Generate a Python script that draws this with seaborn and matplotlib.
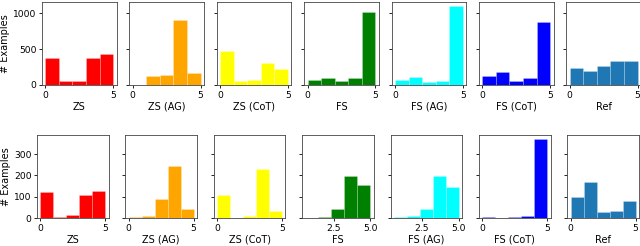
import matplotlib
matplotlib.use("Agg")
import matplotlib.pyplot as plt
import seaborn as sns
import numpy as np
import pandas as pd

methods = ["ZS", "ZS (AG)", "ZS (CoT)", "FS", "FS (AG)", "FS (CoT)", "Ref"]
colors = ["red", "orange", "yellow", "green", "cyan", "blue", "#1f77b4"]

# Bin edges
edges_full = [0, 1, 2, 3, 4, 5]
edges_bottom_fs = [0.6, 1.48, 2.36, 3.24, 4.12, 5.0]

# Top row counts (per bin)
top_zs = [380, 56, 56, 380, 435]
top_zs_ag = [0, 130, 139, 903, 167]
top_zs_cot = [472, 56, 69, 306, 227]
top_fs = [65, 95, 52, 100, 1022]
top_fs_ag = [69, 106, 42, 56, 1102]
top_fs_cot = [130, 176, 56, 102, 884]
top_ref = [241, 194, 259, 329, 338]

# Bottom row counts (per bin)
bot_zs = [120, 6, 13, 108, 125]
bot_zs_ag = [6, 9, 89, 244, 44]
bot_zs_cot = [108, 2, 8, 228, 33]
bot_fs = [0, 6, 42, 196, 156]
bot_fs_ag = [3, 8, 42, 199, 146]
bot_fs_cot = [4, 1, 6, 8, 371]
bot_ref = [97, 167, 28, 33, 81]

top_counts = [top_zs, top_zs_ag, top_zs_cot, top_fs, top_fs_ag, top_fs_cot, top_ref]
bot_counts = [bot_zs, bot_zs_ag, bot_zs_cot, bot_fs, bot_fs_ag, bot_fs_cot, bot_ref]
bot_edges = [edges_full, edges_full, edges_full, edges_bottom_fs, edges_bottom_fs, edges_full, edges_full]

top_yticks = [0, 500, 1000]
bot_yticks = [0, 100, 200, 300]

W, H = 640, 246
fig = plt.figure(figsize=(6.4, 2.46), dpi=100)

FS_TICK = 6.6
FS_LAB = 7.0


def draw_row(counts_list, edges_list, yticks, left0, step, width, top_px, bottom_px):
    axes = []
    first = None
    for i, (m, c, counts, edges) in enumerate(zip(methods, colors, counts_list, edges_list)):
        left = left0 + i * step
        rect = [left / W, 1 - bottom_px / H, width / W, (bottom_px - top_px) / H]
        ax = fig.add_axes(rect, sharey=first) if first is not None else fig.add_axes(rect)
        if first is None:
            first = ax
        e = [float(v) for v in edges]
        centers = [(a + b) / 2 for a, b in zip(e[:-1], e[1:])]
        df = pd.DataFrame({"score": centers, "n": [float(v) for v in counts]})
        sns.histplot(data=df, x="score", weights="n", bins=e, color=c, alpha=1,
                     edgecolor=(1, 1, 1, 0.35), linewidth=0.4, ax=ax)
        ax.set_xlabel(m, fontsize=FS_LAB, labelpad=1.5)
        if e[0] == 0:
            ax.set_xticks([0, 5])
        else:
            ax.set_xticks([2.5, 5.0])
        ax.set_yticks(yticks)
        ax.tick_params(labelsize=FS_TICK, length=2.5, width=0.6, pad=1.5)
        for s in ax.spines.values():
            s.set_linewidth(0.6)
            s.set_color("#444444")
        if i == 0:
            ax.set_ylabel("# Examples", fontsize=FS_LAB, labelpad=2)
        else:
            ax.set_ylabel("")
            ax.tick_params(labelleft=False)
        axes.append(ax)
    return axes


draw_row(top_counts, [edges_full] * 7, top_yticks, 42, 87.4, 74.5, 2, 85)
draw_row(bot_counts, bot_edges, bot_yticks, 37, 88.4, 71.5, 135, 218)

fig.savefig("out.png", dpi=100)
